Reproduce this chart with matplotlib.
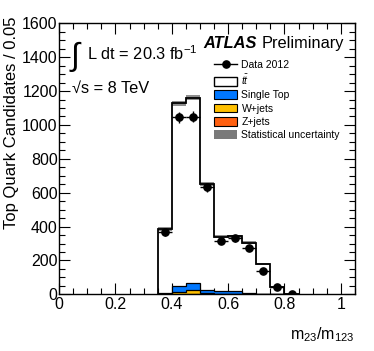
import numpy as np
import matplotlib
matplotlib.use("Agg")
import matplotlib.pyplot as plt
from matplotlib.patches import Patch
from matplotlib.lines import Line2D
from matplotlib.ticker import MultipleLocator

plt.rcParams['font.family'] = ['Liberation Sans', 'DejaVu Sans']
plt.rcParams['mathtext.fontset'] = 'custom'
plt.rcParams['mathtext.rm'] = 'Liberation Sans'
plt.rcParams['mathtext.it'] = 'Liberation Sans:italic'

# ---- data ----
bin_edges = [0.35, 0.40, 0.45, 0.50, 0.55, 0.60, 0.65, 0.70, 0.75, 0.80, 0.85]
bin_centers = [0.375, 0.425, 0.475, 0.525, 0.575, 0.625, 0.675, 0.725, 0.775, 0.825]
mc_total = [385, 1127, 1161, 651, 340, 344, 305, 177, 45, 3]
single_top = [6, 33, 38, 19, 14, 16, 6, 2, 0.5, 0]
w_jets = [2, 14, 24, 4, 3, 3, 1, 0.5, 0, 0]
z_jets = [0.5, 2, 3, 1, 0.5, 0.5, 0.3, 0, 0, 0]
stat_unc = [10, 16, 16, 12, 9, 9, 8, 6, 3, 1]
data_values = [366, 1045, 1048, 632, 315, 330, 271, 138, 41, 0]

legend_labels = ["Data 2012", r"$t\bar{t}$", "Single Top", "W+jets", "Z+jets",
                 "Statistical uncertainty"]

edges = np.array(bin_edges)
zj = np.array(z_jets)
wj = np.array(w_jets)
st = np.array(single_top)
tot = np.array(mc_total, dtype=float)
unc = np.array(stat_unc, dtype=float)
data = np.array(data_values, dtype=float)
centers = np.array(bin_centers)

c_blue = '#0077ff'
c_yel = '#ffc000'
c_orn = '#ff6010'
c_unc = '#7a7a7a'

fig = plt.figure(figsize=(3.74, 3.51), dpi=100)
ax = fig.add_axes([0.158, 0.1615, 0.791, 0.772])

# stack: z, w, single top, ttbar
lvl0 = np.zeros_like(zj)
lvl1 = lvl0 + zj
lvl2 = lvl1 + wj
lvl3 = lvl2 + st

ax.stairs(tot, edges, baseline=lvl3, fill=True, color='white', zorder=1)
ax.stairs(lvl3, edges, baseline=lvl2, fill=True, color=c_blue, zorder=2)
ax.stairs(lvl2, edges, baseline=lvl1, fill=True, color=c_yel, zorder=2)
ax.stairs(lvl1, edges, baseline=lvl0, fill=True, color=c_orn, zorder=2)
for lv in (lvl1, lvl2, lvl3):
    ax.stairs(lv, edges, baseline=0, color='black', lw=0.9, zorder=3)

# stat uncertainty band
ax.stairs(tot + unc, edges, baseline=tot - unc, fill=True, color=c_unc,
          alpha=0.85, zorder=4, lw=0)
ax.stairs(tot, edges, baseline=0, color='black', lw=1.3, zorder=5)

# data
derr = np.sqrt(data)
ax.errorbar(centers, data, yerr=derr, xerr=0.025, fmt='o', color='black',
            ms=5.2, lw=1.0, capsize=0, zorder=6)

ax.set_xlim(0, 1.05)
ax.set_ylim(0, 1600)
ax.xaxis.set_major_locator(MultipleLocator(0.2))
ax.xaxis.set_minor_locator(MultipleLocator(0.05))
ax.yaxis.set_major_locator(MultipleLocator(200))
ax.yaxis.set_minor_locator(MultipleLocator(50))
ax.set_xticks([0, 0.2, 0.4, 0.6, 0.8, 1.0])
ax.set_xticklabels(['0', '0.2', '0.4', '0.6', '0.8', '1'])
ax.tick_params(which='both', direction='in', top=True, right=True,
               labelsize=11.5, width=0.8)
ax.tick_params(which='major', length=8)
ax.tick_params(which='minor', length=4)
ax.tick_params(axis='y', pad=1)
ax.tick_params(axis='x', pad=2)
for s in ax.spines.values():
    s.set_linewidth(1.0)

fig.text(0.032, 0.952, "Top Quark Candidates / 0.05", rotation=90,
         ha='center', va='top', fontsize=12)
fig.text(0.949, 0.032, r"m$_{23}$/m$_{123}$", ha='right', va='baseline',
         fontsize=11.5)

# labels inside
ax.text(0.035, 0.845, r"$\int$", transform=ax.transAxes, fontsize=23,
        ha='left', va='baseline')
ax.text(0.095, 0.865, r"L dt = 20.3 fb$^{\mathregular{-1}}$", transform=ax.transAxes,
        fontsize=11.8, ha='left', va='baseline')
ax.text(0.045, 0.745, "\u221as = 8 TeV", transform=ax.transAxes,
        fontsize=11.8, ha='left', va='baseline')
ax.text(0.486, 0.908, "ATLAS", transform=ax.transAxes, fontsize=11.8,
        fontweight='bold', style='italic', ha='left', va='baseline')
ax.text(0.686, 0.908, "Preliminary", transform=ax.transAxes, fontsize=11.8,
        ha='left', va='baseline')

handles = [
    Line2D([0], [0], color='black', marker='o', ms=5.2, lw=1.0),
    Patch(facecolor='white', edgecolor='black', lw=1.0),
    Patch(facecolor=c_blue, edgecolor='black', lw=0.8),
    Patch(facecolor=c_yel, edgecolor='black', lw=0.8),
    Patch(facecolor=c_orn, edgecolor='black', lw=0.8),
    Patch(facecolor=c_unc, edgecolor='none'),
]
ax.legend(handles, legend_labels, loc='upper left',
          bbox_to_anchor=(0.525, 0.866), frameon=False, fontsize=7.5,
          handlelength=2.2, handleheight=0.9, labelspacing=0.32,
          handletextpad=0.4, borderpad=0, borderaxespad=0)

fig.savefig("out.png", dpi=100)
